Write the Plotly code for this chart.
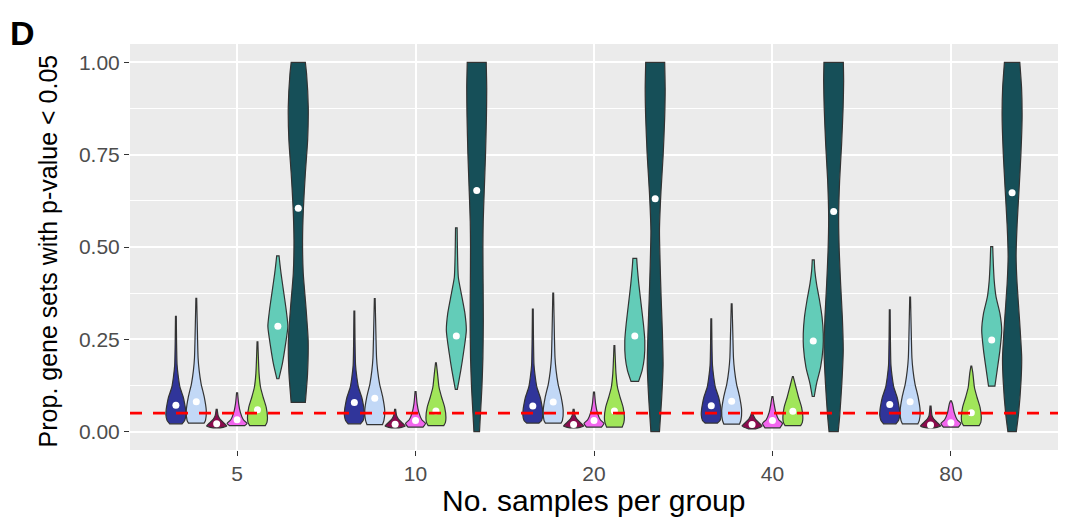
import plotly.graph_objects as go

# ---------------------------------------------------------------- data
group_labels = ["5", "10", "20", "40", "80"]
fill_colors = ["#30359A", "#C2D8F6", "#8B0B4D", "#F266EE", "#A1E65A", "#63CCB8", "#164F58"]

# Narrow methods: lower / upper limits and median of each violin, per group
low_m1 = [0.021, 0.021, 0.023, 0.023, 0.021]
high_m1 = [0.312, 0.326, 0.332, 0.305, 0.330]
median_m1 = [0.071, 0.079, 0.069, 0.070, 0.073]

low_m2 = [0.023, 0.019, 0.023, 0.020, 0.021]
high_m2 = [0.361, 0.360, 0.375, 0.346, 0.364]
median_m2 = [0.081, 0.090, 0.080, 0.082, 0.081]

low_m3 = [0.010, 0.010, 0.010, 0.007, 0.010]
high_m3 = [0.060, 0.060, 0.060, 0.051, 0.069]
median_m3 = [0.021, 0.020, 0.019, 0.019, 0.018]

low_m4 = [0.016, 0.012, 0.012, 0.010, 0.012]
high_m4 = [0.105, 0.108, 0.107, 0.095, 0.083]
median_m4 = [0.032, 0.030, 0.030, 0.030, 0.024]

low_m5 = [0.016, 0.016, 0.012, 0.016, 0.016]
high_m5 = [0.243, 0.186, 0.233, 0.149, 0.177]
median_m5 = [0.059, 0.056, 0.056, 0.055, 0.051]

# Density profile of the narrow methods (relative width at given proportions)
body_m1_y = [0.030, 0.045, 0.060, 0.075, 0.093, 0.120, 0.147, 0.180]
body_m1_w = [0.88, 1.00, 0.97, 0.88, 0.74, 0.41, 0.25, 0.12]
body_m2_y = [0.030, 0.057, 0.093, 0.130, 0.165, 0.200, 0.260]
body_m2_w = [0.92, 1.00, 0.80, 0.48, 0.29, 0.18, 0.12]
body_m3_y = [0.015, 0.025, 0.034, 0.043]
body_m3_w = [1.00, 0.65, 0.33, 0.15]
body_m4_y = [0.022, 0.032, 0.052, 0.075]
body_m4_w = [1.00, 0.63, 0.33, 0.16]
body_m5_y = [0.025, 0.038, 0.066, 0.093, 0.120, 0.157]
body_m5_w = [0.95, 1.00, 0.87, 0.57, 0.31, 0.16]
base_w = [0.62, 0.78, 0.35, 0.75, 0.78]
tip_w = [0.04, 0.04, 0.05, 0.05, 0.04]

# Method 6: full density profiles per group
m6_y = [
    [0.143, 0.184, 0.228, 0.285, 0.328, 0.382, 0.428, 0.455, 0.476],
    [0.114, 0.165, 0.210, 0.274, 0.320, 0.373, 0.418, 0.480, 0.552],
    [0.136, 0.165, 0.200, 0.247, 0.292, 0.346, 0.400, 0.445, 0.469],
    [0.095, 0.130, 0.174, 0.228, 0.265, 0.310, 0.355, 0.400, 0.436, 0.465],
    [0.123, 0.165, 0.220, 0.274, 0.320, 0.364, 0.409, 0.455, 0.501],
]
m6_w = [
    [0.10, 0.45, 0.72, 1.00, 0.84, 0.56, 0.32, 0.20, 0.12],
    [0.10, 0.44, 0.70, 1.00, 0.86, 0.50, 0.20, 0.12, 0.08],
    [0.38, 0.73, 0.95, 1.00, 0.86, 0.63, 0.40, 0.25, 0.19],
    [0.10, 0.33, 0.73, 0.98, 1.00, 0.88, 0.63, 0.33, 0.16, 0.10],
    [0.32, 0.54, 0.82, 1.00, 0.82, 0.44, 0.25, 0.16, 0.10],
]
median_m6 = [0.285, 0.259, 0.259, 0.245, 0.248]

# Method 7: full density profiles per group
m7_y = [
    [0.079, 0.157, 0.247, 0.337, 0.428, 0.518, 0.608, 0.70, 0.79, 0.88, 0.97, 1.0],
    [0.0, 0.05, 0.12, 0.20, 0.30, 0.40, 0.50, 0.57, 0.65, 0.75, 0.85, 0.93, 1.0],
    [0.0, 0.09, 0.18, 0.27, 0.36, 0.45, 0.545, 0.65, 0.75, 0.85, 0.93, 1.0],
    [0.0, 0.04, 0.13, 0.22, 0.31, 0.40, 0.49, 0.58, 0.68, 0.78, 0.88, 0.95, 1.0],
    [0.0, 0.05, 0.14, 0.20, 0.30, 0.40, 0.475, 0.56, 0.653, 0.75, 0.85, 0.93, 1.0],
]
m7_w = [
    [0.71, 0.93, 0.99, 0.77, 0.50, 0.43, 0.52, 0.71, 0.94, 1.00, 0.83, 0.71],
    [0.28, 0.38, 0.52, 0.62, 0.66, 0.64, 0.62, 0.65, 0.75, 0.88, 0.97, 1.00, 0.95],
    [0.43, 0.65, 0.79, 0.72, 0.60, 0.50, 0.43, 0.58, 0.80, 0.95, 1.00, 0.95],
    [0.46, 0.60, 0.82, 0.96, 0.87, 0.70, 0.56, 0.50, 0.60, 0.80, 0.95, 1.00, 0.97],
    [0.42, 0.65, 0.90, 0.96, 0.75, 0.50, 0.40, 0.50, 0.69, 0.88, 1.00, 0.95, 0.77],
]
median_m7 = [0.605, 0.653, 0.631, 0.596, 0.647]

threshold = 0.05

# ---------------------------------------------------------------- geometry
n_methods = 7
dodge = 0.8
half_width = 0.056

narrow = [
    (low_m1, high_m1, body_m1_y, body_m1_w),
    (low_m2, high_m2, body_m2_y, body_m2_w),
    (low_m3, high_m3, body_m3_y, body_m3_w),
    (low_m4, high_m4, body_m4_y, body_m4_w),
    (low_m5, high_m5, body_m5_y, body_m5_w),
]
medians = [median_m1, median_m2, median_m3, median_m4, median_m5, median_m6, median_m7]


def centre(g, m):
    return g + (m - (n_methods - 1) / 2) * dodge / n_methods


def violin(cx, ys, ws, color):
    right_x = [cx + half_width * w for w in ws]
    left_x = [cx - half_width * w for w in ws]
    ys = list(ys)
    # corner points are repeated so the flat ends stay flat under spline smoothing
    xs = ([right_x[0]] + right_x + [right_x[-1], left_x[-1]]
          + left_x[::-1] + [left_x[0], right_x[0]])
    yy = [ys[0]] + ys + [ys[-1], ys[-1]] + ys[::-1] + [ys[0], ys[0]]
    return go.Scatter(
        x=xs, y=yy, mode="lines", fill="toself", fillcolor=color,
        line=dict(color="#333333", width=1.2, shape="spline", smoothing=0.6),
        hoverinfo="skip", showlegend=False,
    )


fig = go.Figure()

for g in range(len(group_labels)):
    for m, (lo, hi, by, bw) in enumerate(narrow):
        ys = [lo[g]]
        ws = [base_w[m]]
        for y, w in zip(by, bw):
            if lo[g] < y < hi[g]:
                ys.append(y)
                ws.append(w)
        ys.append(hi[g])
        ws.append(tip_w[m])
        fig.add_trace(violin(centre(g, m), ys, ws, fill_colors[m]))
    fig.add_trace(violin(centre(g, 5), m6_y[g], m6_w[g], fill_colors[5]))
    fig.add_trace(violin(centre(g, 6), m7_y[g], m7_w[g], fill_colors[6]))

dot_x, dot_y = [], []
for m in range(n_methods):
    for g in range(len(group_labels)):
        dot_x.append(centre(g, m))
        dot_y.append(medians[m][g])
fig.add_trace(go.Scatter(
    x=dot_x, y=dot_y, mode="markers",
    marker=dict(color="white", size=7, line=dict(width=0)),
    hoverinfo="skip", showlegend=False,
))

fig.add_trace(go.Scatter(
    x=[-0.6, 4.6], y=[threshold, threshold], mode="lines",
    line=dict(color="#FF0000", width=2.7, dash="12px,11px"),
    hoverinfo="skip", showlegend=False,
))

font_family = "Liberation Sans, Arial, sans-serif"

fig.update_layout(
    width=1074, height=519,
    margin=dict(l=130, r=16, t=44, b=69),
    paper_bgcolor="white", plot_bgcolor="#EBEBEB",
    font=dict(family=font_family, color="#000000"),
    showlegend=False,
    xaxis=dict(
        range=[-0.6, 4.6], tickvals=list(range(len(group_labels))), ticktext=group_labels,
        showgrid=True, gridcolor="white", gridwidth=2, zeroline=False, showline=False,
        ticks="outside", ticklen=5, tickwidth=1.2, tickcolor="#333333",
        tickfont=dict(size=21, color="#4D4D4D", family=font_family),
    ),
    yaxis=dict(
        range=[-0.05, 1.05], tickvals=[0, 0.25, 0.5, 0.75, 1.0],
        ticktext=["0.00", "0.25", "0.50", "0.75", "1.00"],
        showgrid=True, gridcolor="white", gridwidth=2, zeroline=False, showline=False,
        ticks="outside", ticklen=5, tickwidth=1.2, tickcolor="#333333",
        tickfont=dict(size=21, color="#4D4D4D", family=font_family),
        minor=dict(tickvals=[0.125, 0.375, 0.625, 0.875], showgrid=True,
                   gridcolor="white", gridwidth=1, ticks=""),
    ),
    annotations=[
        dict(text="No. samples per group", xref="paper", yref="paper",
             x=0.5, y=-0.125, xanchor="center", yanchor="middle", showarrow=False,
             font=dict(size=30, color="black", family=font_family)),
        dict(text="Prop. gene sets with p-value < 0.05", xref="paper", yref="paper",
             x=-0.088, y=0.49, xanchor="center", yanchor="middle", textangle=-90,
             showarrow=False, font=dict(size=25, color="black", family=font_family)),
        dict(text="<b>D</b>", xref="paper", yref="paper",
             x=-0.131, y=1.08, xanchor="left", yanchor="top", showarrow=False,
             font=dict(size=34, color="black", family=font_family)),
    ],
)

fig.write_html("out.html")
